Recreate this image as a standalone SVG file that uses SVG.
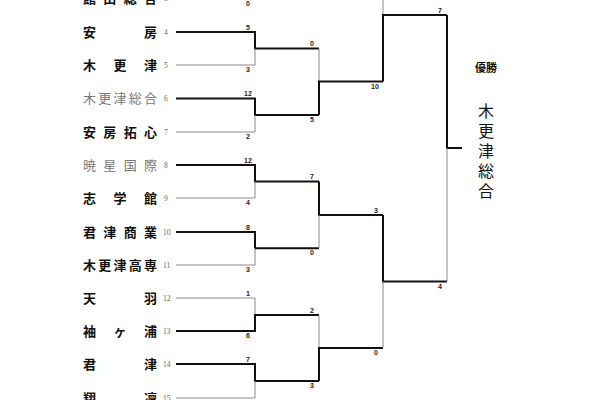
<svg xmlns="http://www.w3.org/2000/svg" width="600" height="400" viewBox="0 0 600 400">
<style>
.n{font-family:"Noto Sans CJK JP","Noto Sans CJK SC",sans-serif;font-size:13px;font-weight:bold;fill:#111}
.g{fill:#777;font-weight:normal}
.no{font-family:"Liberation Serif",serif;font-size:7.5px;fill:#666}
.s{font-family:"Liberation Sans",sans-serif;font-size:7px;font-weight:bold;fill:#222;text-anchor:middle}
.k{stroke:#111;stroke-width:2;fill:none}
.t{stroke:#888;stroke-width:1;fill:none}
.c{font-family:"Noto Sans CJK JP",sans-serif;fill:#111;text-anchor:middle}
</style>
<rect width="600" height="400" fill="#fff"/>
<g id="teams">
<text class="n" x="83" y="3" textLength="74" lengthAdjust="spacing">館山総合</text><text class="no" x="164" y="1">3</text>
<text class="n" x="83" y="37" textLength="74" lengthAdjust="spacing">安房</text><text class="no" x="164" y="35">4</text>
<text class="n" x="83" y="70" textLength="74" lengthAdjust="spacing">木更津</text><text class="no" x="164" y="68">5</text>
<text class="n g" x="83" y="103" textLength="74" lengthAdjust="spacing">木更津総合</text><text class="no" x="164" y="101">6</text>
<text class="n" x="83" y="137" textLength="74" lengthAdjust="spacing">安房拓心</text><text class="no" x="164" y="135">7</text>
<text class="n g" x="83" y="170" textLength="74" lengthAdjust="spacing">暁星国際</text><text class="no" x="164" y="168">8</text>
<text class="n" x="83" y="203" textLength="74" lengthAdjust="spacing">志学館</text><text class="no" x="164" y="201">9</text>
<text class="n" x="83" y="237" textLength="74" lengthAdjust="spacing">君津商業</text><text class="no" x="163" y="235">10</text>
<text class="n" x="83" y="270" textLength="74" lengthAdjust="spacing">木更津高専</text><text class="no" x="163" y="268">11</text>
<text class="n" x="83" y="303" textLength="74" lengthAdjust="spacing">天羽</text><text class="no" x="163" y="301">12</text>
<text class="n" x="83" y="336" textLength="74" lengthAdjust="spacing">袖ヶ浦</text><text class="no" x="163" y="334">13</text>
<text class="n" x="83" y="369" textLength="74" lengthAdjust="spacing">君津</text><text class="no" x="163" y="367">14</text>
<text class="n" x="83" y="403" textLength="74" lengthAdjust="spacing">翔凜</text><text class="no" x="163" y="401">15</text>
</g>
<g id="connectors">
<path class="t" d="M176 -1.5H255"/>
<path class="k" d="M176 32H255V48.6H319"/><path class="t" d="M176 65H255V48.6"/>
<path class="k" d="M176 98.5H255V115H319"/><path class="t" d="M176 132H255V115"/>
<path class="k" d="M176 165H255V181.6H319"/><path class="t" d="M176 198H255V181.6"/>
<path class="k" d="M176 232H255V248.3"/><path class="t" d="M176 265H255V248.3"/><path class="k" d="M255 248.3H319"/>
<path class="t" d="M176 298H255V315"/><path class="k" d="M176 331H255V315H319"/>
<path class="k" d="M176 364H255V381H319"/><path class="t" d="M176 398H255V381"/>
<path class="t" d="M319 48.6V81.6"/><path class="k" d="M319 115V81.6H383"/>
<path class="k" d="M319 181.6V215H383"/><path class="t" d="M319 248.3V215"/>
<path class="t" d="M319 315V348"/><path class="k" d="M319 381V348H383"/>
<path class="t" d="M383 -20V15"/><path class="k" d="M383 81.6V15H447"/>
<path class="k" d="M383 215V281.6H447"/><path class="t" d="M383 348V281.6"/>
<path class="k" d="M447 15V148H462"/><path class="t" d="M447 281.6V148"/>
</g>
<g id="scores">
<text class="s" x="248" y="6">0</text>
<text class="s" x="248" y="30">5</text><text class="s" x="248" y="72">3</text>
<text class="s" x="248" y="96">12</text><text class="s" x="248" y="139">2</text>
<text class="s" x="248" y="163">12</text><text class="s" x="248" y="205">4</text>
<text class="s" x="248" y="230">8</text><text class="s" x="248" y="272">3</text>
<text class="s" x="248" y="296">1</text><text class="s" x="248" y="338">6</text>
<text class="s" x="248" y="362">7</text><text class="s" x="248" y="405">3</text>
<text class="s" x="312" y="46">0</text><text class="s" x="312" y="122">5</text>
<text class="s" x="312" y="179">7</text><text class="s" x="312" y="255">0</text>
<text class="s" x="312" y="313">2</text><text class="s" x="312" y="388">3</text>
<text class="s" x="375" y="89">10</text><text class="s" x="376" y="213">3</text><text class="s" x="376" y="355">0</text>
<text class="s" x="440" y="13">7</text><text class="s" x="440" y="289">4</text>
</g>
<g id="champion">
<text class="c" x="486" y="72" font-size="11" font-weight="bold">優勝</text>
<text class="c" x="486" y="117" font-size="16">木</text>
<text class="c" x="486" y="137" font-size="16">更</text>
<text class="c" x="486" y="157" font-size="16">津</text>
<text class="c" x="486" y="177" font-size="16">総</text>
<text class="c" x="486" y="197" font-size="16">合</text>
</g>
</svg>
